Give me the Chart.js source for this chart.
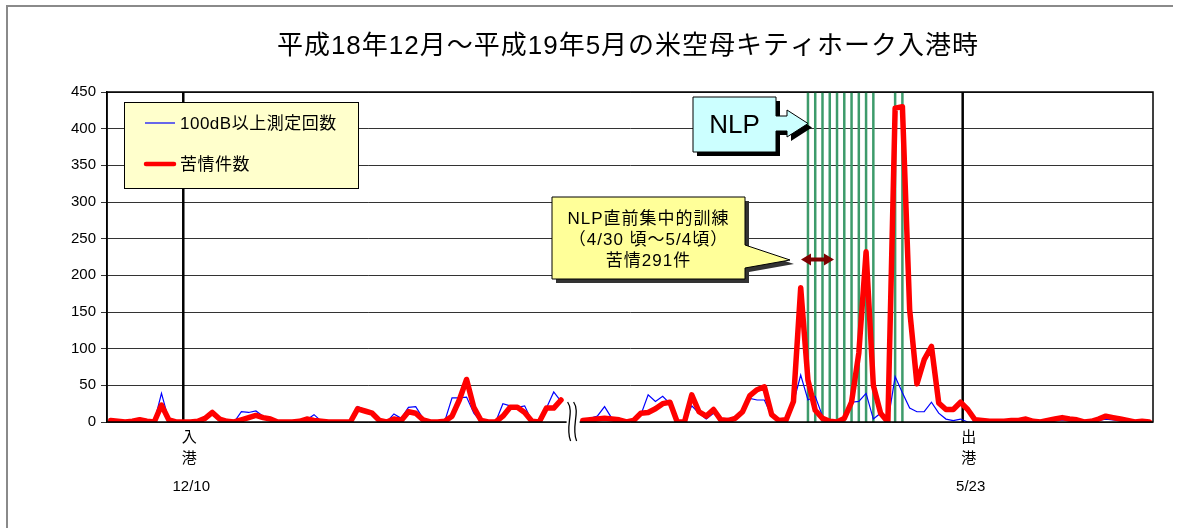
<!DOCTYPE html>
<html>
<head>
<meta charset="utf-8">
<script src="https://cdn.jsdelivr.net/npm/chart.js@4/dist/chart.umd.min.js"></script>
<style>
  html, body { margin: 0; padding: 0; background: #fff; }
  #wrap { width: 1182px; height: 528px; }
</style>
</head>
<body>
<div id="wrap"><canvas id="noiseChart" width="1182" height="528"></canvas></div>
<script>
// 苦情件数（日別）
const complaints = [
    2, 1, 0, 1, 3, 1, 0, 23, 3, 0,
    0, 0, 1, 5, 13, 4, 1, 0, 3, 6,
    9, 6, 4, 0, 0, 0, 1, 4, 2, 1,
    0, 0, 0, 0, 18, 15, 12, 2, 0, 4,
    2, 14, 12, 3, 0, 0, 1, 8, 30, 58,
    20, 2, 0, 0, 8, 20, 20, 13, 1, 0,
    19, 19, 30, null, null, 2, 3, 4, 5, 4,
    3, 0, 2, 12, 13, 18, 25, 27, 0, 0,
    37, 14, 8, 17, 3, 2, 5, 14, 36, 44,
    48, 10, 2, 3, 28, 183, 57, 16, 5, 1,
    0, 5, 27, 94, 232, 50, 12, 0, 428, 430,
    153, 52, 85, 103, 26, 17, 17, 27, 17, 3,
    2, 1, 1, 1, 2, 2, 4, 1, 0, 2,
    4, 6, 4, 3, 0, 1, 4, 8, 6, 4,
    2, 0, 1, 0
];

// 100dB以上測定回数（日別）
const loudCounts = [
    1, 0, 0, 1, 3, 1, 0, 39, 3, 0,
    0, 0, 1, 5, 12, 4, 1, 0, 14, 13,
    15, 8, 3, 0, 0, 0, 1, 3, 10, 1,
    0, 0, 0, 0, 21, 17, 14, 2, 0, 11,
    5, 20, 21, 5, 0, 0, 1, 33, 33, 34,
    12, 0, 0, 0, 25, 22, 20, 22, 1, 0,
    19, 41, 28, null, null, 2, 5, 8, 21, 5,
    4, 0, 3, 10, 37, 28, 35, 25, 0, 0,
    22, 12, 4, 12, 3, 5, 4, 14, 32, 30,
    30, 8, 2, 2, 26, 64, 30, 35, 8, 0,
    1, 3, 27, 28, 39, 4, 12, 0, 62, 40,
    19, 14, 14, 27, 12, 4, 2, 4, 0, 0,
    0, 0, 0, 0, 1, 0, 2, 0, 0, 1,
    2, 3, 2, 1, 0, 0, 2, 4, 3, 2,
    1, 0, 0, 0
];

// 日番号（横軸のカテゴリ）
const days = complaints.map((_, i) => String(i + 1));

// 縦軸目盛
const yTicks = [0, 50, 100, 150, 200, 250, 300, 350, 400, 450];

// NLP実施日（緑の縦線）のカテゴリ位置
const nlpDays = [96, 97, 98, 99, 100, 101, 102, 103, 104, 105, 108, 109];

// 入港・出港の位置（カテゴリ位置）と表示
const portIn = 10;
const portOut = 117.3;
const portLabels = [
    { at: portIn, chars: ['入', '港'], date: '12/10' },
    { at: portOut, chars: ['出', '港'], date: '5/23' }
];
const breakAt = 63.6;

const seriesNames = ['100dB以上測定回数', '苦情件数'];
const titleText = '平成18年12月～平成19年5月の米空母キティホーク入港時';
const calloutLines = ['NLP直前集中的訓練', '（4/30 頃～5/4頃）', '苦情291件'];

const FONT = '"Liberation Sans", "Noto Sans CJK JP", sans-serif';

// 枠・凡例・吹き出しなどの描画
const decorPlugin = {
    id: 'decor',
    beforeDatasetsDraw(chart) {
        const ctx = chart.ctx;
        const xs = chart.scales.x;
        const ca = chart.chartArea;
        ctx.save();
        // 緑の縦線
        ctx.strokeStyle = '#3D9B6B';
        ctx.lineWidth = 2.5;
        nlpDays.forEach(d => {
            const x = xs.getPixelForValue(d);
            ctx.beginPath();
            ctx.moveTo(x, ca.top);
            ctx.lineTo(x, ca.bottom);
            ctx.stroke();
        });
        // 入港・出港の線
        ctx.strokeStyle = '#000';
        ctx.lineWidth = 2.5;
        [portIn, portOut].forEach(d => {
            const x = xs.getPixelForValue(d);
            ctx.beginPath();
            ctx.moveTo(x, ca.top);
            ctx.lineTo(x, ca.bottom);
            ctx.stroke();
        });
        ctx.restore();
    },
    afterDraw(chart) {
        const ctx = chart.ctx;
        const xs = chart.scales.x;
        const ca = chart.chartArea;
        ctx.save();

        // 外枠
        ctx.strokeStyle = '#8a8a8a';
        ctx.lineWidth = 2;
        ctx.beginPath();
        ctx.moveTo(7, 528);
        ctx.lineTo(7, 6);
        ctx.lineTo(1173, 6);
        ctx.stroke();

        // プロットエリア枠
        ctx.strokeStyle = '#000';
        ctx.lineWidth = 1.5;
        ctx.strokeRect(ca.left, ca.top, ca.right - ca.left, ca.bottom - ca.top);

        // タイトル
        ctx.fillStyle = '#000';
        ctx.font = '26px ' + FONT;
        ctx.letterSpacing = '1px';
        ctx.textAlign = 'center';
        ctx.textBaseline = 'middle';
        ctx.fillText(titleText, 628, 47);
        ctx.letterSpacing = '0px';

        // 凡例
        const lx = ca.left + 17, ly = ca.top + 10;
        ctx.fillStyle = '#FFFFCC';
        ctx.fillRect(lx, ly, 234, 86);
        ctx.strokeStyle = '#000';
        ctx.lineWidth = 1;
        ctx.strokeRect(lx + 0.5, ly + 0.5, 234, 86);
        ctx.lineWidth = 1.2;
        ctx.strokeStyle = '#0000FF';
        ctx.beginPath();
        ctx.moveTo(lx + 21, ly + 21);
        ctx.lineTo(lx + 51, ly + 21);
        ctx.stroke();
        ctx.lineWidth = 4.5;
        ctx.strokeStyle = '#FF0000';
        ctx.lineCap = 'round';
        ctx.beginPath();
        ctx.moveTo(lx + 22, ly + 62);
        ctx.lineTo(lx + 50, ly + 62);
        ctx.stroke();
        ctx.lineCap = 'butt';
        ctx.fillStyle = '#000';
        ctx.font = '17px ' + FONT;
        ctx.letterSpacing = '0.5px';
        ctx.textAlign = 'left';
        ctx.fillText(seriesNames[0], lx + 56, ly + 22);
        ctx.fillText(seriesNames[1], lx + 56, ly + 63);
        ctx.letterSpacing = '0px';

        // NLP 矢印付きボックス
        const bx = 693, by = 97, bw = 83, bh = 55;
        const arrow = (dx, dy) => {
            ctx.beginPath();
            ctx.moveTo(bx + dx, by + dy);
            ctx.lineTo(bx + bw + dx, by + dy);
            ctx.lineTo(bx + bw + dx, 116 + dy);
            ctx.lineTo(787 + dx, 116 + dy);
            ctx.lineTo(787 + dx, 110 + dy);
            ctx.lineTo(808 + dx, 123.5 + dy);
            ctx.lineTo(787 + dx, 137 + dy);
            ctx.lineTo(787 + dx, 131 + dy);
            ctx.lineTo(bx + bw + dx, 131 + dy);
            ctx.lineTo(bx + bw + dx, by + bh + dy);
            ctx.lineTo(bx + dx, by + bh + dy);
            ctx.closePath();
        };
        ctx.fillStyle = '#000';
        arrow(4, 4);
        ctx.fill();
        ctx.fillStyle = '#CCFFFF';
        arrow(0, 0);
        ctx.fill();
        ctx.strokeStyle = '#000';
        ctx.lineWidth = 1;
        ctx.stroke();
        ctx.fillStyle = '#000';
        ctx.font = '26px ' + FONT;
        ctx.textAlign = 'center';
        ctx.fillText('NLP', bx + bw / 2, by + bh / 2 + 1);

        // 黄色の吹き出し
        const cx = 552, cy = 197, cw = 193, ch = 82;
        const bubble = (dx, dy) => {
            ctx.beginPath();
            ctx.moveTo(cx + dx, cy + dy);
            ctx.lineTo(cx + cw + dx, cy + dy);
            ctx.lineTo(cx + cw + dx, 245 + dy);
            ctx.lineTo(790 + dx, 260 + dy);
            ctx.lineTo(cx + cw + dx, 268 + dy);
            ctx.lineTo(cx + cw + dx, cy + ch + dy);
            ctx.lineTo(cx + dx, cy + ch + dy);
            ctx.closePath();
        };
        ctx.fillStyle = '#333';
        bubble(4, 4);
        ctx.fill();
        ctx.fillStyle = '#FFFF99';
        bubble(0, 0);
        ctx.fill();
        ctx.strokeStyle = '#000';
        ctx.lineWidth = 1;
        ctx.stroke();
        ctx.fillStyle = '#000';
        ctx.font = '17px ' + FONT;
        ctx.letterSpacing = '1px';
        calloutLines.forEach((t, k) => ctx.fillText(t, cx + cw / 2, 219 + k * 21));
        ctx.letterSpacing = '0px';

        // 両矢印
        ctx.fillStyle = '#7F0000';
        ctx.beginPath();
        ctx.moveTo(801, 259.5);
        ctx.lineTo(811, 253.5);
        ctx.lineTo(811, 257.5);
        ctx.lineTo(824, 257.5);
        ctx.lineTo(824, 253.5);
        ctx.lineTo(834, 259.5);
        ctx.lineTo(824, 265.5);
        ctx.lineTo(824, 261.5);
        ctx.lineTo(811, 261.5);
        ctx.lineTo(811, 265.5);
        ctx.closePath();
        ctx.fill();

        // 省略記号（波線）
        const wx = xs.getPixelForValue(breakAt);
        ctx.fillStyle = '#fff';
        ctx.fillRect(wx - 6, ca.bottom - 16, 13, 18);
        ctx.strokeStyle = '#000';
        ctx.lineWidth = 1.3;
        [-3, 3].forEach(off => {
            ctx.beginPath();
            ctx.moveTo(wx + off - 2, ca.bottom - 20);
            ctx.bezierCurveTo(wx + off + 5, ca.bottom - 10, wx + off - 5, ca.bottom + 5, wx + off + 1, ca.bottom + 19);
            ctx.stroke();
        });

        // 入港・出港ラベル
        ctx.fillStyle = '#000';
        ctx.font = '15px ' + FONT;
        ctx.textAlign = 'center';
        portLabels.forEach(p => {
            const x = xs.getPixelForValue(p.at) + 6;
            ctx.fillText(p.chars[0], x, 438);
            ctx.fillText(p.chars[1], x, 459);
            ctx.fillText(p.date, x + 2, 487);
        });
        ctx.restore();
    }
};

function initChart() {
    new Chart(document.getElementById('noiseChart'), {
        type: 'line',
        data: {
            labels: days,
            datasets: [
                {
                    label: seriesNames[1],
                    data: complaints,
                    borderColor: '#FF0000',
                    borderWidth: 5.5,
                    borderJoinStyle: 'round',
                    borderCapStyle: 'round',
                    pointRadius: 0,
                    tension: 0,
                    spanGaps: false,
                    order: 1
                },
                {
                    label: seriesNames[0],
                    data: loudCounts,
                    borderColor: '#0000FF',
                    borderWidth: 1.2,
                    pointRadius: 0,
                    tension: 0,
                    spanGaps: false,
                    order: 2
                }
            ]
        },
        options: {
            responsive: false,
            animation: false,
            layout: { padding: { left: 10, right: 29, top: 92, bottom: 106 } },
            plugins: {
                legend: { display: false },
                tooltip: { enabled: false },
                title: { display: false }
            },
            scales: {
                x: {
                    type: 'category',
                    offset: true,
                    grid: { display: false, offset: false },
                    ticks: { display: false },
                    border: { display: false },
                    afterFit: s => { s.height = 0; }
                },
                y: {
                    min: 0,
                    max: 450,
                    afterBuildTicks: s => { s.ticks = yTicks.map(v => ({ value: v })); },
                    afterFit: s => { s.width = 97; },
                    grid: { color: '#333', lineWidth: 1, tickLength: 6 },
                    border: { color: '#000', width: 1.5 },
                    ticks: {
                        color: '#000',
                        padding: 5,
                        font: { family: FONT, size: 15 }
                    }
                }
            }
        },
        plugins: [decorPlugin]
    });
}

document.addEventListener('DOMContentLoaded', initChart);
</script>
</body>
</html>
